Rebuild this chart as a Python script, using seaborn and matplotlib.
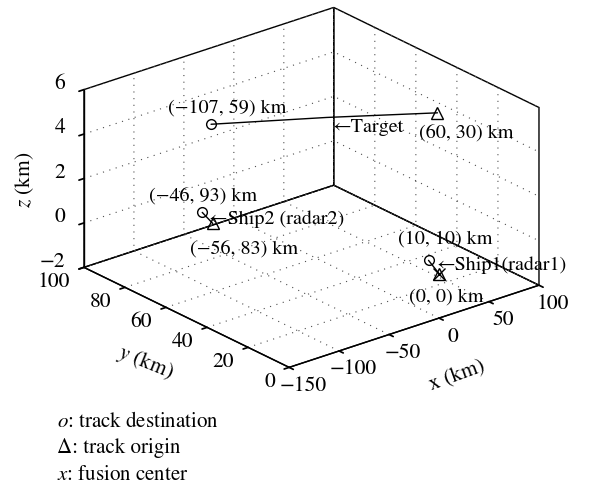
import matplotlib
matplotlib.use("Agg")
import matplotlib.pyplot as plt
import matplotlib.transforms as mtransforms
import seaborn as sns

sns.set_theme(style="ticks")
plt.rcParams["font.family"] = ["STIXGeneral", "DejaVu Serif"]
plt.rcParams["mathtext.fontset"] = "stix"
plt.rcParams["text.color"] = "black"
plt.rcParams["axes.labelcolor"] = "black"
plt.rcParams["xtick.color"] = "black"
plt.rcParams["ytick.color"] = "black"
plt.rcParams["grid.color"] = "0.3"
plt.rcParams["grid.linestyle"] = (0, (1, 5))
plt.rcParams["grid.linewidth"] = 0.8

# Target track (km): origin, waypoint, destination
target_x = [60, -20, -107]
target_y = [30, 45, 59]
target_z = [5.0, 5.3, 5.65]

# Ship2 (radar2) track: origin -> destination
ship2_x = [-56, -46]
ship2_y = [83, 93]
ship2_z = [-0.65, -0.75]

# Ship1 (radar1) track: origin -> destination
ship1_x = [0, 10]
ship1_y = [0, 10]
ship1_z = [0.0, 0.0]

# Fusion center
fusion_x = [0]
fusion_y = [0]
fusion_z = [0.0]

x_ticks = [-150, -100, -50, 0, 50, 100]
y_ticks = [0, 20, 40, 60, 80, 100]
z_ticks = [-2, 0, 2, 4, 6]

FS = 14.5
TICK_FS = 15.5

fig = plt.figure(figsize=(5.91, 4.87), dpi=100)
ax = fig.add_axes([0.017, 0.153, 1.0, 0.9], projection="3d", proj_type="ortho")
ax.view_init(elev=23.6, azim=-129.4)
ax.set_box_aspect((1, 1, 0.6), zoom=1.1)

ax.set_xlim(-150, 100)
ax.set_ylim(0, 100)
ax.set_zlim(-2, 6)
ax.set_xticks(x_ticks)
ax.set_yticks(y_ticks)
ax.set_zticks(z_ticks)

for axis in (ax.xaxis, ax.yaxis, ax.zaxis):
    axis.set_pane_color((1, 1, 1, 0))
    axis.pane.set_alpha(None)
    axis.pane.set_facecolor((1, 1, 1, 0))
    axis.pane.set_edgecolor("black")
    axis.pane.set_linewidth(1.0)
    axis.pane.set_closed(True)
    axis.line.set_color("black")
    axis.line.set_linewidth(1.0)
    axis.label.set_visible(False)
    axis.offsetText.set_visible(False)
    axis._axinfo["tick"]["inward_factor"] = 0.25
    axis._axinfo["tick"]["outward_factor"] = 0.0
    axis._axinfo["grid"].update(color="0.3", linestyle=(0, (1, 5)), linewidth=0.8)

ax.tick_params(labelsize=TICK_FS, colors="black")
ax.tick_params(axis="x", pad=3.0)
ax.tick_params(axis="y", pad=1.3)
ax.tick_params(axis="z", pad=-1.3)
ax.grid(True)

for t in ax.xaxis.get_major_ticks():
    t.label1.set_verticalalignment("center")
for t in ax.yaxis.get_major_ticks():
    t.label1.set_horizontalalignment("right")
    t.label1.set_verticalalignment("center")
for t in ax.zaxis.get_major_ticks():
    t.label1.set_horizontalalignment("right")
    t.label1.set_verticalalignment("baseline")

mk = dict(color="black", linewidth=1.0)
ax.plot(target_x, target_y, target_z, **mk)
ax.plot(ship2_x, ship2_y, ship2_z, **mk)
ax.plot(ship1_x, ship1_y, ship1_z, **mk)

for xs, ys, zs in ((target_x, target_y, target_z),
                   (ship2_x, ship2_y, ship2_z),
                   (ship1_x, ship1_y, ship1_z)):
    ax.plot([xs[0]], [ys[0]], [zs[0]], marker="^", ms=8, mfc="none",
            mec="black", mew=1.0, linestyle="none")
    ax.plot([xs[-1]], [ys[-1]], [zs[-1]], marker="o", ms=7, mfc="none",
            mec="black", mew=1.0, linestyle="none")
ax.plot(fusion_x, fusion_y, fusion_z, marker="x", ms=8, mec="black",
        mew=1.0, linestyle="none")


def label(x, y, z, s, dx, dy, ha="center"):
    tr = mtransforms.offset_copy(ax.transData, fig=fig, x=dx, y=dy, units="dots")
    ax.text(x, y, z, s, ha=ha, va="center", fontsize=FS, transform=tr, zorder=10)


label(target_x[-1], target_y[-1], target_z[-1], "(−107, 59) km", 16, 16)
label(target_x[1], target_y[1], target_z[1], "←Target", 6, -10, ha="left")
label(target_x[0], target_y[0], target_z[0], "(60, 30) km", -18, -20, ha="left")
label(ship2_x[-1], ship2_y[-1], ship2_z[-1], "(−46, 93) km", 1, 17)
label(ship2_x[-1], ship2_y[-1], ship2_z[-1], "←Ship2 (radar2)", 7, -7, ha="left")
label(ship2_x[0], ship2_y[0], ship2_z[0], "(−56, 83) km", 31, -25)
label(ship1_x[-1], ship1_y[-1], ship1_z[-1], "(10, 10) km", 17, 21)
label(ship1_x[-1], ship1_y[-1], ship1_z[-1], "←Ship1(radar1)", 8, -5, ha="left")
label(ship1_x[0], ship1_y[0], ship1_z[0], "(0, 0) km", 7, -23)

# Axis titles
W, H = 591, 487
fig.text(457 / W, 1 - 376 / H, "x (km)", fontsize=TICK_FS, rotation=20,
         ha="center", va="center", rotation_mode="anchor")
fig.text(145 / W, 1 - 363 / H, "$y$ (km)", fontsize=TICK_FS, rotation=-22,
         ha="center", va="center", rotation_mode="anchor")
fig.text(25 / W, 1 - 180 / H, "$z$ (km)", fontsize=TICK_FS, rotation=90,
         ha="center", va="center", rotation_mode="anchor")

legend_lines = ["$o$: track destination", "Δ: track origin", "$x$: fusion center"]
for i, s in enumerate(legend_lines):
    fig.text(57 / W, 1 - (422 + 26.5 * i) / H, s, fontsize=15, ha="left", va="center")

fig.savefig("out.png", dpi=100)
